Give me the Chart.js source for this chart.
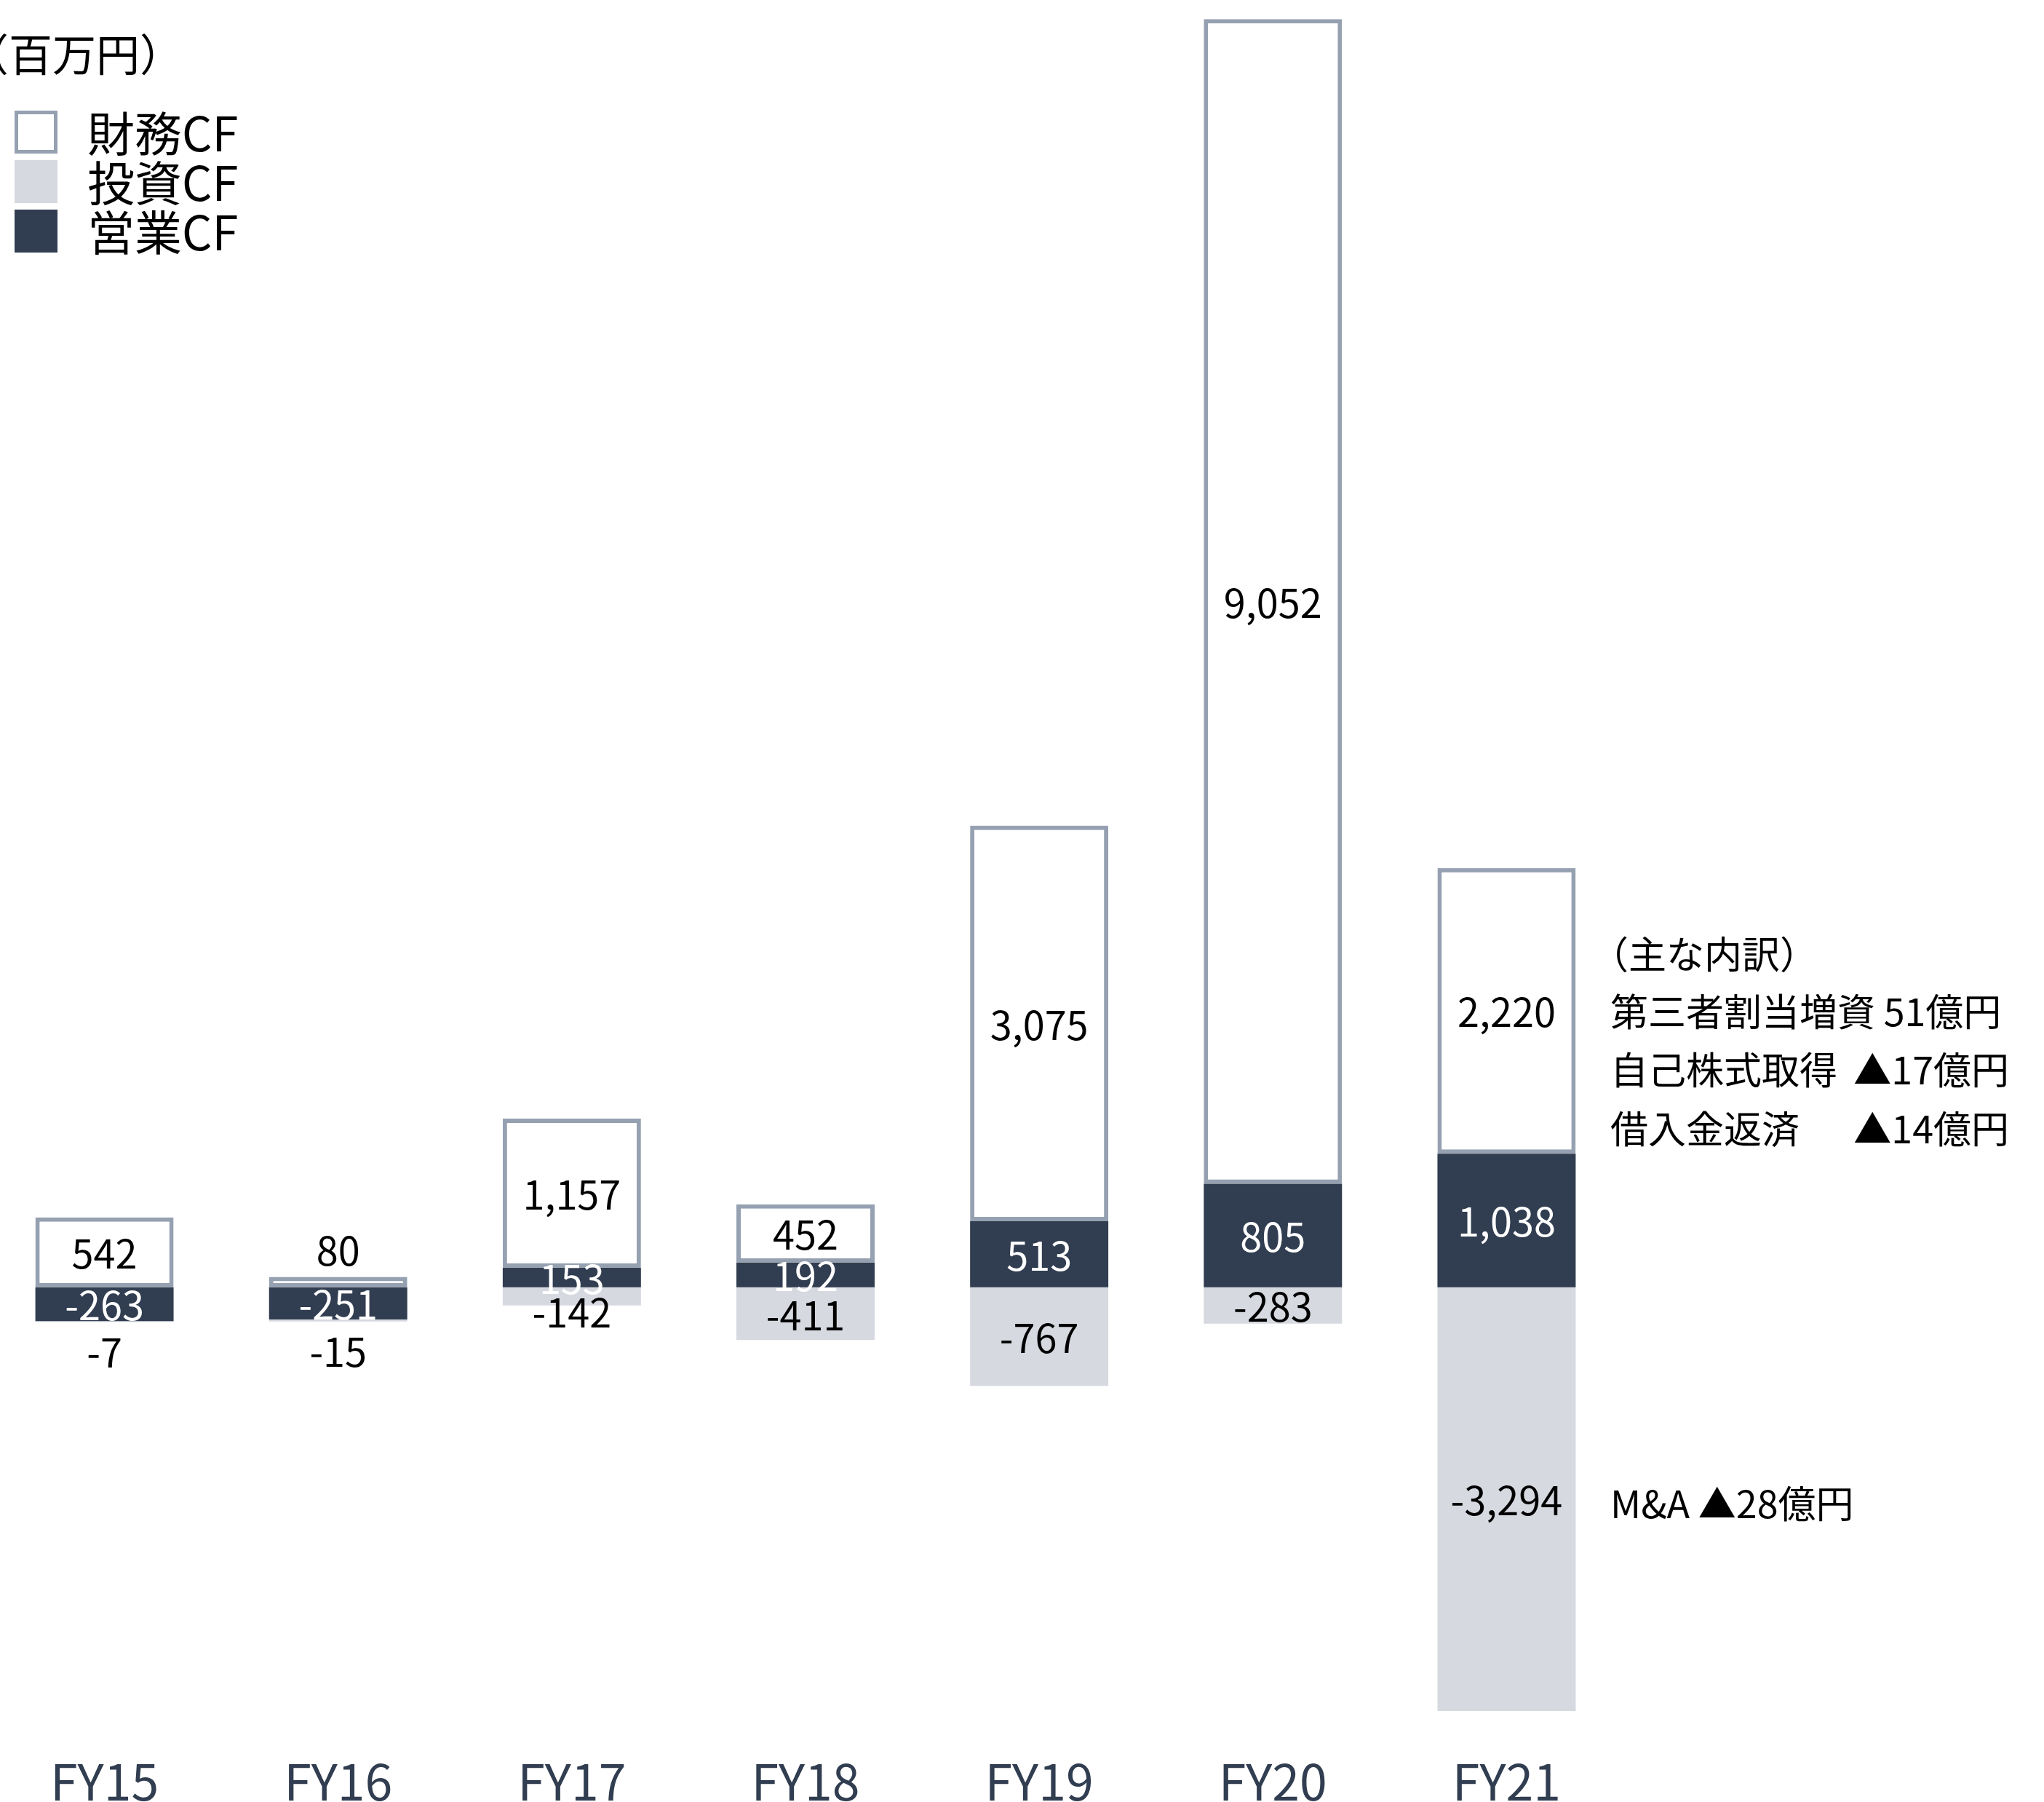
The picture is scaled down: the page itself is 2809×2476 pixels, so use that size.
<!DOCTYPE html>
<html lang="ja">
<head>
<meta charset="utf-8">
<title>キャッシュフロー推移</title>
<script src="https://cdn.jsdelivr.net/npm/chart.js@4.4.1/dist/chart.umd.min.js"></script>
<style>
  html, body { margin: 0; padding: 0; background: #fff; overflow: hidden; }
  /* キャンバスは左に少しはみ出させる（FY15の棒を左端に寄せるため） */
  #wrap { position: absolute; left: -17px; top: 0; width: 2826px; height: 2476px; }
</style>
</head>
<body>
<div id="wrap"><canvas id="cf"></canvas></div>
<script>
// 年度
const years = ['FY15', 'FY16', 'FY17', 'FY18', 'FY19', 'FY20', 'FY21'];

// キャッシュフロー（百万円）
const eigyoCF = [-263, -251, 153, 192, 513, 805, 1038];
const toushiCF = [-7, -15, -142, -411, -767, -283, -3294];
const zaimuCF = [542, 80, 1157, 452, 3075, 9052, 2220];

// 軸の範囲
const yMin = -3300;
const yMax = 9870;

// 注記テキスト
const unitText = '（百万円）';
const naiyakuTitle = '（主な内訳）';
const naiyakuLeft = ['第三者割当増資 51億円', '自己株式取得', '借入金返済'];
const naiyakuRight = ['', '▲17億円', '▲14億円'];
const maText = 'M&A ▲28億円';

const NAVY = '#313d50';
const GRAY = '#d6d9e0';
const BORDER = '#95a1b1';
const FONT = '"Noto Sans CJK JP", "Noto Sans", sans-serif';
const SHIFT = 17; // キャンバスのずれ分

Chart.defaults.font.family = FONT;

// 棒の中（小さい棒は外側）に数値を書く
const labelColors = ['#fff', '#000', '#000'];
const valueLabels = {
    id: 'valueLabels',
    afterDatasetsDraw(chart) {
        const ctx = chart.ctx;
        ctx.save();
        ctx.font = '54px ' + FONT;
        ctx.textAlign = 'center';
        ctx.textBaseline = 'middle';
        chart.data.datasets.forEach((ds, i) => {
            chart.getDatasetMeta(i).data.forEach((bar, j) => {
                const v = ds.data[j];
                const p = bar.getProps(['x', 'y', 'base'], true);
                const h = Math.abs(p.base - p.y);
                let ty = (p.y + p.base) / 2 + 2;
                let color = labelColors[i];
                if (h < 20) {
                    // 細すぎる棒は外に出す
                    ty = v >= 0 ? p.y - 36 : p.y + 42;
                    color = '#000';
                } else if (h < 30 && v < 0) {
                    // 少し細い負の棒は下端にかかるように
                    ty = p.y + 10;
                    color = '#000';
                }
                ctx.fillStyle = color;
                ctx.fillText(v.toLocaleString('en-US'), p.x, ty);
            });
        });
        ctx.restore();
    }
};

// 単位・凡例・主な内訳
const notes = {
    id: 'notes',
    afterDraw(chart) {
        const ctx = chart.ctx;
        ctx.save();
        ctx.fillStyle = '#000';
        ctx.textBaseline = 'middle';
        ctx.textAlign = 'left';

        ctx.font = '60px ' + FONT;
        ctx.fillText(unitText, -48 + SHIFT, 75);

        // 凡例（データセットの逆順）
        const order = [2, 1, 0];
        order.forEach((idx, k) => {
            const ds = chart.data.datasets[idx];
            const bx = 20 + SHIFT;
            const by = 152 + k * 68;
            const s = 59;
            if (ds.borderWidth > 0) {
                ctx.fillStyle = ds.borderColor;
                ctx.fillRect(bx, by, s, s);
                ctx.fillStyle = ds.backgroundColor;
                ctx.fillRect(bx + 5, by + 5, s - 10, s - 10);
            } else {
                ctx.fillStyle = ds.backgroundColor;
                ctx.fillRect(bx, by, s, s);
            }
            ctx.fillStyle = '#000';
            ctx.font = '65px ' + FONT;
            ctx.fillText(ds.label, 120 + SHIFT, by + s / 2 + 2);
        });

        // 主な内訳
        ctx.font = '52px ' + FONT;
        const lx = 2213 + SHIFT;
        const rx = 2761 + SHIFT;
        ctx.fillText(naiyakuTitle, 2186 + SHIFT, 1311);
        naiyakuLeft.forEach((t, k) => {
            const y = 1390 + k * 80.5;
            ctx.textAlign = 'left';
            ctx.fillText(t, lx, y);
            if (naiyakuRight[k]) {
                ctx.textAlign = 'right';
                ctx.fillText(naiyakuRight[k], rx, y);
            }
        });

        // M&A は FY21 投資CF の数値と同じ高さ
        const bar = chart.getDatasetMeta(1).data[years.length - 1];
        const p = bar.getProps(['y', 'base'], true);
        ctx.textAlign = 'left';
        ctx.fillText(maText, lx, (p.y + p.base) / 2 + 6);
        ctx.restore();
    }
};

new Chart(document.getElementById('cf'), {
    type: 'bar',
    data: {
        labels: years,
        datasets: [
            { label: '営業CF', data: eigyoCF, backgroundColor: NAVY, borderWidth: 0 },
            { label: '投資CF', data: toushiCF, backgroundColor: GRAY, borderWidth: 0 },
            {
                label: '財務CF',
                data: zaimuCF,
                backgroundColor: '#fff',
                borderColor: BORDER,
                borderWidth: 6,
                borderSkipped: false
            }
        ]
    },
    options: {
        responsive: true,
        maintainAspectRatio: false,
        devicePixelRatio: 1,
        animation: false,
        layout: { padding: { top: 24, right: 578, bottom: 0, left: 0 } },
        datasets: {
            bar: { categoryPercentage: 1, barPercentage: 0.5915 }
        },
        scales: {
            x: {
                stacked: true,
                grid: { display: false, drawTicks: false },
                border: { display: false },
                ticks: {
                    color: NAVY,
                    font: { size: 68, lineHeight: 1 },
                    padding: 62,
                    maxRotation: 0
                },
                // 軸の高さを固定して棒の下端をそろえる
                afterFit(scale) {
                    scale.height = 124;
                }
            },
            y: {
                stacked: true,
                display: false,
                min: yMin,
                max: yMax
            }
        },
        plugins: {
            legend: { display: false },
            tooltip: { enabled: false }
        }
    },
    plugins: [valueLabels, notes]
});
</script>
</body>
</html>
